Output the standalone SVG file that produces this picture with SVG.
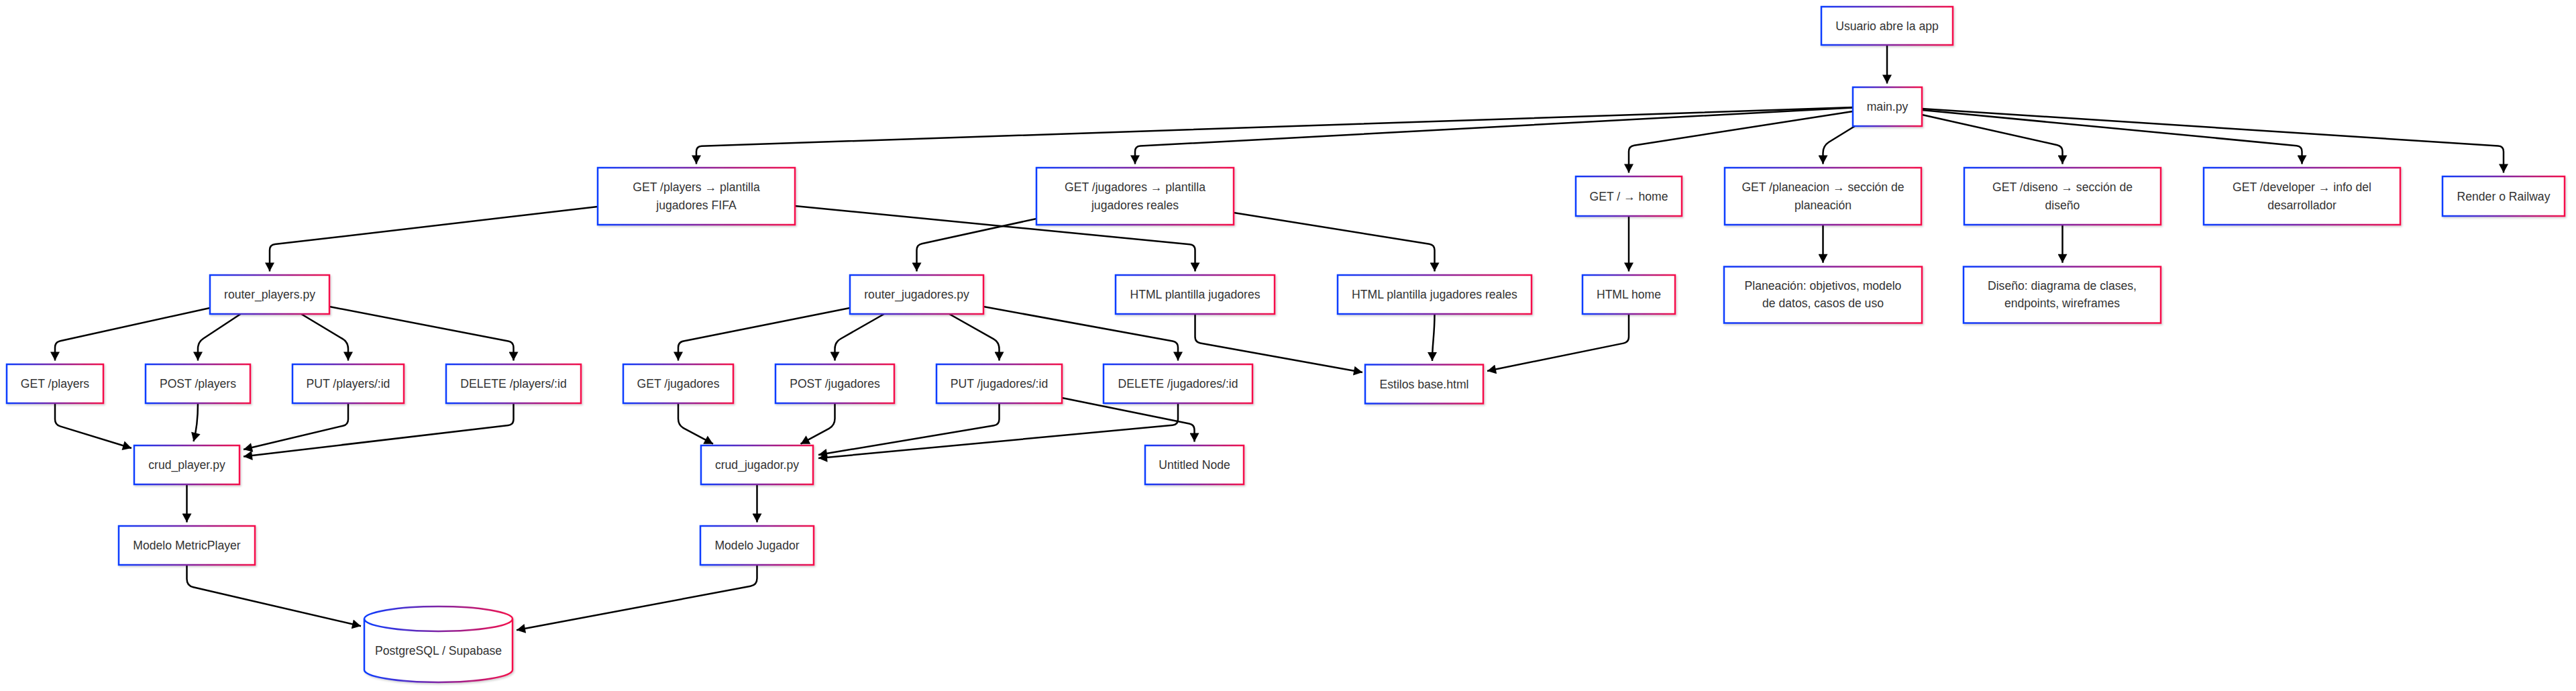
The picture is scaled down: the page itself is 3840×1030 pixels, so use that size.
<svg xmlns="http://www.w3.org/2000/svg" width="3840" height="1030" viewBox="0 0 3840 1030">
<defs>
<linearGradient id="grad" x1="0" y1="0" x2="1" y2="0">
<stop offset="0" stop-color="#0a3cff"/>
<stop offset="1" stop-color="#f5104a"/>
</linearGradient>
<filter id="sh" x="-10%" y="-20%" width="120%" height="150%">
<feDropShadow dx="1.5" dy="2" stdDeviation="1.5" flood-color="#000" flood-opacity="0.18"/>
</filter>
<marker id="arr" markerUnits="userSpaceOnUse" markerWidth="14" markerHeight="14" viewBox="0 0 13 14" refX="13" refY="7" orient="auto">
<path d="M0,0 L13,7 L0,14 z" fill="#000"/>
</marker>
</defs>
<style>
.n rect, .n path.b { fill: #fff; stroke: url(#grad); stroke-width: 2.5; filter: url(#sh); }
.n path.f { fill: none; stroke: url(#grad); stroke-width: 2.5; }
.n text { font-family: "Liberation Sans", Arial, sans-serif; font-size: 17.6px; fill: #333; text-anchor: middle; dominant-baseline: central; }
#connectors path { fill: none; stroke: #000; stroke-width: 2.5; marker-end: url(#arr); }
</style>
<rect width="3840" height="1030" fill="#fff"/>

<g id="connectors">
<path d="M2813,67 L2813,124.5"/>
<path d="M2762,160 L1046,217.7 Q1038,218 1038,226 L1038,244.5"/>
<path d="M2762,160.5 L1700,217.6 Q1692,218 1692,226 L1692,244.5"/>
<path d="M2762,166 L2436,216.8 Q2428,218 2428,226 L2428,257.5"/>
<path d="M2765,188 L2726,212 Q2717.5,217.5 2717.5,228 L2717.5,244.5"/>
<path d="M2865,171 L3066.7,216.2 Q3074.5,218 3074.5,226 L3074.5,244.5"/>
<path d="M2865,164 L3423.5,217.2 Q3431.5,218 3431.5,226 L3431.5,244.5"/>
<path d="M2865,162 L3724,217.5 Q3732,218 3732,226 L3732,257.5"/>
<path d="M891,308 L410,364.1 Q402,365 402,373 L402,404.5"/>
<path d="M1185,307 L1773.5,364.2 Q1781.5,365 1781.5,373 L1781.5,404.5"/>
<path d="M1545,326 L1374.3,363.3 Q1366.5,365 1366.5,373 L1366.5,404.5"/>
<path d="M1839,317 L2130.6,363.7 Q2138.5,365 2138.5,373 L2138.5,404.5"/>
<path d="M2428,322 L2428,404.5"/>
<path d="M2717.5,335 L2717.5,391.7"/>
<path d="M3074.5,335 L3074.5,391.7"/>
<path d="M313,459 L89.8,508.3 Q82,510 82,518 L82,537.5"/>
<path d="M358.7,468 L303.3,504.5 Q295,510 295,520 L295,537.5"/>
<path d="M449,468 L510.4,504.9 Q519,510 519,520 L519,537.5"/>
<path d="M491,457 L757.6,508.5 Q765.5,510 765.5,518 L765.5,537.5"/>
<path d="M1267,459 L1018.8,508.4 Q1011,510 1011,518 L1011,537.5"/>
<path d="M1318,468 L1253.2,505 Q1244.5,510 1244.5,520 L1244.5,537.5"/>
<path d="M1415,468 L1480.8,505.1 Q1489.5,510 1489.5,520 L1489.5,537.5"/>
<path d="M1466,457 L1748.1,508.6 Q1756,510 1756,518 L1756,537.5"/>
<path d="M1781.5,468 L1781.5,502 Q1781.5,510 1789.4,511.4 L2031,555"/>
<path d="M2138.5,468 C2138.5,500 2135,512 2135,538"/>
<path d="M2428,468 L2428,502 Q2428,510 2420.2,511.6 L2217,553"/>
<path d="M82,601 L82,625 Q82,633 89.6,635.4 L196,668"/>
<path d="M295,601 C295,630 292,645 288.5,658"/>
<path d="M519,601 L519,625 Q519,633 511.2,634.8 L363,670"/>
<path d="M765.5,601 L765.5,625 Q765.5,633 757.6,633.9 L363,680.5"/>
<path d="M1011,601 L1011,624 Q1011,634 1019.8,638.7 L1063,661.7"/>
<path d="M1244.5,601 L1244.5,624 Q1244.5,634 1235.7,638.8 L1193.5,661.7"/>
<path d="M1489.5,601 L1489.5,625 Q1489.5,633 1481.6,634.3 L1220,678"/>
<path d="M1756,601 L1756,625 Q1756,633 1748,633.7 L1220,683"/>
<path d="M1583,593 L1772.7,631.4 Q1780.5,633 1780.5,641 L1780.5,658.5"/>
<path d="M278.5,722 L278.5,778.5"/>
<path d="M1128.5,722 L1128.5,778.5"/>
<path d="M278.5,842 L278.5,863 Q278.5,873 288.2,875.3 L538,933.3"/>
<path d="M1128.5,842 L1128.5,862 Q1128.5,872 1118.7,873.8 L770,939.3"/>
</g>

<g id="n-usuario" class="n"><rect x="2715" y="10" width="196" height="57"/><text x="2813" y="38.5">Usuario abre la app</text></g>
<g id="n-main" class="n"><rect x="2762" y="130" width="103" height="58"/><text x="2813.5" y="159">main.py</text></g>

<g id="n-get-players" class="n"><rect x="891" y="250" width="294" height="85"/><text x="1038" y="279.3">GET /players → plantilla</text><text x="1038" y="305.7">jugadores FIFA</text></g>
<g id="n-get-jugadores" class="n"><rect x="1545" y="250" width="294" height="85"/><text x="1692" y="279.3">GET /jugadores → plantilla</text><text x="1692" y="305.7">jugadores reales</text></g>
<g id="n-get-home" class="n"><rect x="2349" y="263" width="158" height="59"/><text x="2428" y="292.5">GET / → home</text></g>
<g id="n-get-planeacion" class="n"><rect x="2571" y="250" width="293" height="85"/><text x="2717.5" y="279.3">GET /planeacion → sección de</text><text x="2717.5" y="305.7">planeación</text></g>
<g id="n-get-diseno" class="n"><rect x="2928" y="250" width="293" height="85"/><text x="3074.5" y="279.3">GET /diseno → sección de</text><text x="3074.5" y="305.7">diseño</text></g>
<g id="n-get-developer" class="n"><rect x="3285" y="250" width="293" height="85"/><text x="3431.5" y="279.3">GET /developer → info del</text><text x="3431.5" y="305.7">desarrollador</text></g>
<g id="n-render" class="n"><rect x="3641" y="263" width="182" height="59"/><text x="3732" y="292.5">Render o Railway</text></g>

<g id="n-router-players" class="n"><rect x="313" y="410" width="178" height="58"/><text x="402" y="439">router_players.py</text></g>
<g id="n-router-jugadores" class="n"><rect x="1267" y="410" width="199" height="58"/><text x="1366.5" y="439">router_jugadores.py</text></g>
<g id="n-html-jugadores" class="n"><rect x="1663" y="410" width="237" height="58"/><text x="1781.5" y="439">HTML plantilla jugadores</text></g>
<g id="n-html-reales" class="n"><rect x="1994" y="410" width="289" height="58"/><text x="2138.5" y="439">HTML plantilla jugadores reales</text></g>
<g id="n-html-home" class="n"><rect x="2359" y="410" width="138" height="58"/><text x="2428" y="439">HTML home</text></g>
<g id="n-planeacion" class="n"><rect x="2570" y="397.5" width="295" height="84"/><text x="2717.5" y="426">Planeación: objetivos, modelo</text><text x="2717.5" y="452">de datos, casos de uso</text></g>
<g id="n-diseno" class="n"><rect x="2927" y="397.5" width="294" height="84"/><text x="3074" y="426">Diseño: diagrama de clases,</text><text x="3074" y="452">endpoints, wireframes</text></g>

<g id="n-get-p" class="n"><rect x="10" y="543" width="144" height="58"/><text x="82" y="572">GET /players</text></g>
<g id="n-post-p" class="n"><rect x="217" y="543" width="156" height="58"/><text x="295" y="572">POST /players</text></g>
<g id="n-put-p" class="n"><rect x="436" y="543" width="166" height="58"/><text x="519" y="572">PUT /players/:id</text></g>
<g id="n-del-p" class="n"><rect x="665" y="543" width="201" height="58"/><text x="765.5" y="572">DELETE /players/:id</text></g>
<g id="n-get-j" class="n"><rect x="929" y="543" width="164" height="58"/><text x="1011" y="572">GET /jugadores</text></g>
<g id="n-post-j" class="n"><rect x="1156" y="543" width="177" height="58"/><text x="1244.5" y="572">POST /jugadores</text></g>
<g id="n-put-j" class="n"><rect x="1396" y="543" width="187" height="58"/><text x="1489.5" y="572">PUT /jugadores/:id</text></g>
<g id="n-del-j" class="n"><rect x="1645" y="543" width="222" height="58"/><text x="1756" y="572">DELETE /jugadores/:id</text></g>
<g id="n-estilos" class="n"><rect x="2035" y="543.5" width="176" height="58"/><text x="2123" y="572.5">Estilos base.html</text></g>

<g id="n-crud-player" class="n"><rect x="200" y="664" width="157" height="58"/><text x="278.5" y="693">crud_player.py</text></g>
<g id="n-crud-jugador" class="n"><rect x="1045" y="664" width="167" height="58"/><text x="1128.5" y="693">crud_jugador.py</text></g>
<g id="n-untitled" class="n"><rect x="1707" y="664" width="147" height="58"/><text x="1780.5" y="693">Untitled Node</text></g>

<g id="n-modelo-metric" class="n"><rect x="177" y="784" width="203" height="58"/><text x="278.5" y="813">Modelo MetricPlayer</text></g>
<g id="n-modelo-jugador" class="n"><rect x="1044" y="784" width="169" height="58"/><text x="1128.5" y="813">Modelo Jugador</text></g>

<g id="n-db" class="n"><path class="b" d="M543,922.5 A110.5,18.5 0 0 1 764,922.5 L764,998.5 A110.5,18.5 0 0 1 543,998.5 Z"/><path class="f" d="M543,922.5 A110.5,18.5 0 0 0 764,922.5"/><text x="653.5" y="970">PostgreSQL / Supabase</text></g>
</svg>
